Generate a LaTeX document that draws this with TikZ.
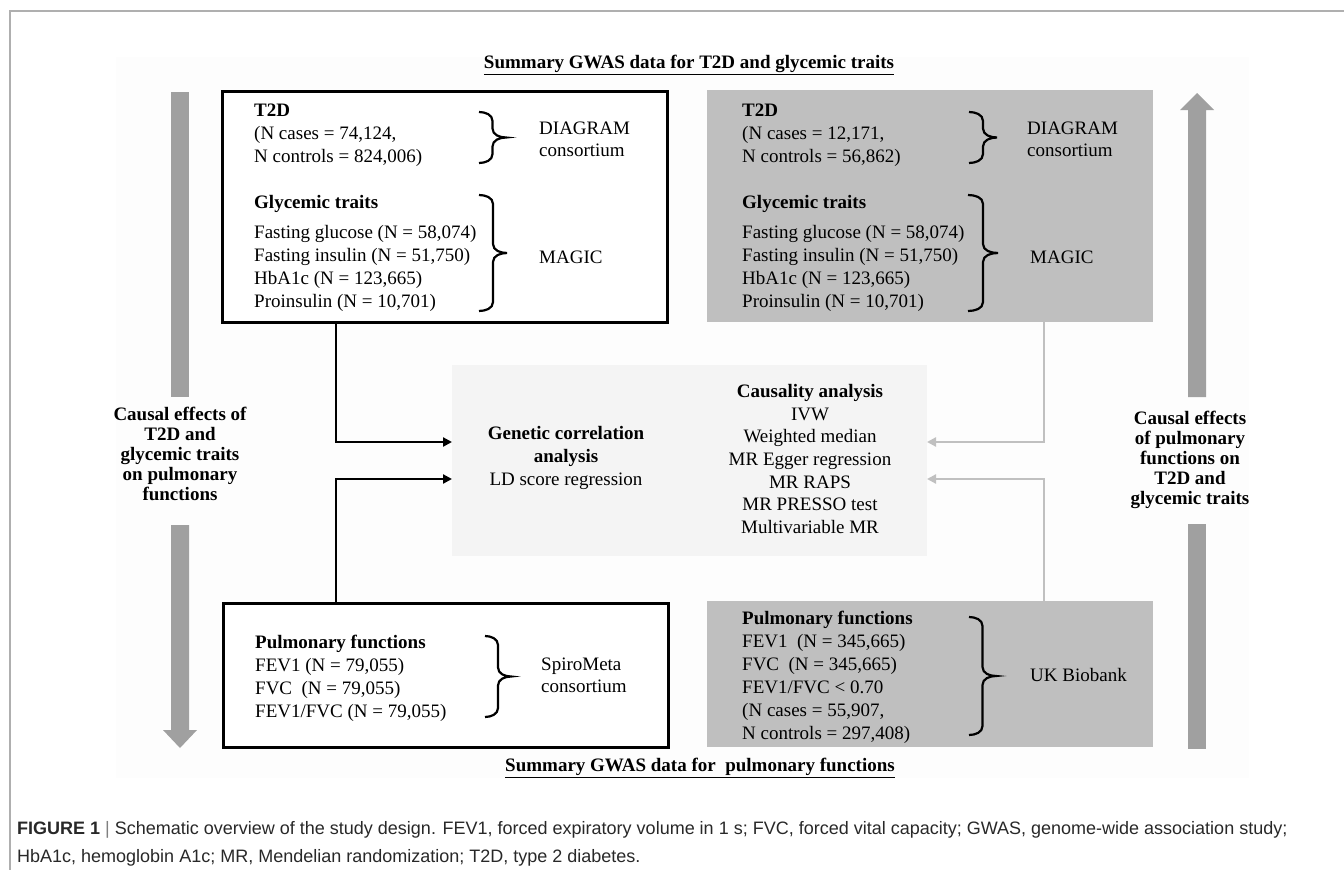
\documentclass[tikz,border=0pt]{standalone}
\usepackage{fontspec}
\setmainfont{Liberation Serif}
\newfontfamily\capfont{Liberation Sans}
\usetikzlibrary{arrows.meta,positioning}

\definecolor{datagray}{RGB}{191,191,191}
\definecolor{bigarrow}{RGB}{160,160,160}
\definecolor{analysisbg}{RGB}{244,244,244}
\definecolor{linkgray}{RGB}{192,192,192}
\definecolor{framegray}{RGB}{175,175,175}
\definecolor{captext}{RGB}{40,40,40}

% curly brace: x, top, bottom, width
\newcommand{\curlybrace}[4]{%
  \draw[curly] (#1,#2) to[out=0,in=90] ({#1+#4/2},{#2+9})
    -- ({#1+#4/2},{(#2+#3)/2-9}) to[out=-90,in=180] ({#1+#4},{(#2+#3)/2})
    to[out=180,in=90] ({#1+#4/2},{(#2+#3)/2+9})
    -- ({#1+#4/2},{#3-9}) to[out=-90,in=0] (#1,#3);}

\begin{document}
\begin{tikzpicture}[x=1pt,y=-1pt,
    txt/.style={font=\fontsize{19}{23}\selectfont, inner sep=0pt, align=left, anchor=north west},
    src/.style={font=\fontsize{19}{22}\selectfont, inner sep=0pt, align=left, anchor=west},
    efflbl/.style={font=\fontsize{19}{20}\selectfont\bfseries, inner sep=0pt, align=center},
    ttl/.style={font=\fontsize{19}{23}\selectfont\bfseries, inner sep=0pt},
    capline/.style={font=\capfont\fontsize{18}{20}\selectfont, text=captext, inner sep=0pt, anchor=west},
    whitebox/.style={draw=black, line width=2.5pt, fill=white, anchor=north west, inner sep=0pt},
    graybox/.style={fill=datagray, anchor=north west, inner sep=0pt, outer sep=0pt},
    curly/.style={line width=2.2pt},
    blacklink/.style={line width=2.2pt, -{Triangle[length=9pt,width=9pt]}},
    graylink/.style={draw=linkgray, line width=2.2pt, -{Triangle[length=9pt,width=9pt]}}]
    \useasboundingbox (0,0) rectangle (1344,870);

    % Frame and faint panel
    \fill[black!0.6] (116,57) rectangle (1249,778);
    \draw[framegray, line width=1.2pt] (1344,11) -- (10,11) -- (10,870);

    % Titles
    \node[ttl] (topTitle) at (689,65) {\underline{Summary GWAS data for T2D and glycemic traits}};
    \node[ttl] (botTitle) at (700,768) {\underline{Summary GWAS data for~~pulmonary functions}};

    % Data boxes
    \node[whitebox, minimum width=445pt, minimum height=231pt] (tl) at (221,90) {};
    \node[graybox, minimum width=446pt, minimum height=232pt] (tr) at (707,90) {};
    \node[whitebox, minimum width=445pt, minimum height=144pt] (bl) at (222,602) {};
    \node[graybox, minimum width=446pt, minimum height=146pt] (br) at (707,601) {};

    % Analysis box
    \node[fill=analysisbg, anchor=north west, inner sep=0pt, outer sep=0pt,
          minimum width=475pt, minimum height=191pt] (anal) at (452,365) {};

    % Big arrows
    \fill[bigarrow] (171,92) rectangle (189,397);
    \fill[bigarrow] (171,525) -- (189,525) -- (189,730) -- (197,730) -- (180,748)
        -- (163,730) -- (171,730) -- cycle;
    \fill[bigarrow] (1197,93) -- (1214,110) -- (1206,110) -- (1206,397) -- (1188,397)
        -- (1188,110) -- (1180,110) -- cycle;
    \fill[bigarrow] (1188,524) rectangle (1206,749);
    \node[efflbl] (effDown) at (180,454) {Causal effects of\\T2D and\\glycemic traits\\on pulmonary\\functions};
    \node[efflbl] (effUp) at (1190,460) {Causal effects\\of pulmonary\\functions on\\T2D and\\glycemic traits};

    % Top left box
    \node[txt] (t2dA) at (254,103.5) {\textbf{T2D}\\(N cases = 74,124,\\N controls = 824,006)};
    \node[txt] (glyA) at (254,195.5) {\textbf{Glycemic traits}\\[7pt]Fasting glucose (N = 58,074)\\Fasting insulin (N = 51,750)\\HbA1c (N = 123,665)\\Proinsulin (N = 10,701)};
    \curlybrace{479}{112}{163}{27}
    \curlybrace{479}{195}{311}{28}
    \node[src] (diagA) at (539,139) {DIAGRAM\\consortium};
    \node[src] (magicA) at (539,257) {MAGIC};

    % Top right box
    \node[txt] (t2dB) at (742,103.5) {\textbf{T2D}\\(N cases = 12,171,\\N controls = 56,862)};
    \node[txt] (glyB) at (742,195.5) {\textbf{Glycemic traits}\\[7pt]Fasting glucose (N = 58,074)\\Fasting insulin (N = 51,750)\\HbA1c (N = 123,665)\\Proinsulin (N = 10,701)};
    \curlybrace{969}{112}{163}{28}
    \curlybrace{968}{195}{311}{30}
    \node[src] (diagB) at (1027,139) {DIAGRAM\\consortium};
    \node[src] (magicB) at (1030,257) {MAGIC};

    % Bottom left box
    \node[txt] (pulmA) at (255,634.5) {\textbf{Pulmonary functions}\\FEV1 (N = 79,055)\\FVC~ (N = 79,055)\\FEV1/FVC (N = 79,055)};
    \curlybrace{485}{636}{717}{26}
    \node[src] (spiro) at (541,675) {SpiroMeta\\consortium};

    % Bottom right box
    \node[txt] (pulmB) at (742,610.5) {\textbf{Pulmonary functions}\\FEV1~ (N = 345,665)\\FVC~ (N = 345,665)\\FEV1/FVC < 0.70\\(N cases = 55,907,\\N controls = 297,408)};
    \curlybrace{969}{617}{735}{27}
    \node[src] (ukb) at (1030,675) {UK Biobank};

    % Analysis text
    \node[font=\fontsize{19}{23}\selectfont, align=center, inner sep=0pt] (genCor) at (566,458)
        {\textbf{Genetic correlation}\\\textbf{analysis}\\LD score regression};
    \node[font=\fontsize{19}{22.7}\selectfont, align=center, inner sep=0pt] (causal) at (810,459)
        {\textbf{Causality analysis}\\IVW\\Weighted median\\MR Egger regression\\MR RAPS\\MR PRESSO test\\Multivariable MR};

    % Links
    \draw[blacklink] ([xshift=115pt]tl.south west) |- ([yshift=18.5pt]anal.west);
    \draw[blacklink] ([xshift=114pt]bl.north west) |- ([yshift=-18.5pt]anal.west);
    \draw[graylink] ([xshift=337pt]tr.south west) |- ([yshift=18.5pt]anal.east);
    \draw[graylink] ([xshift=337pt]br.north west) |- ([yshift=-18.5pt]anal.east);

    % Caption
    \node[capline] (cap1) at (17,830) {{\bfseries FIGURE 1} {\color{gray}|} Schematic overview of the study design. FEV1, forced expiratory volume in 1 s; FVC, forced vital capacity; GWAS, genome-wide association study;};
    \node[capline] (cap2) at (17,858) {HbA1c, hemoglobin A1c; MR, Mendelian randomization; T2D, type 2 diabetes.};
\end{tikzpicture}
\end{document}
